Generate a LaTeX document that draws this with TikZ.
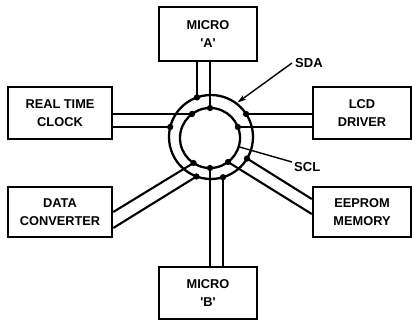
\documentclass[tikz,border=0pt]{standalone}
\usepackage{fontspec}
\setmainfont{Liberation Sans}
\usetikzlibrary{arrows.meta,calc}
\begin{document}
\begin{tikzpicture}[x=1pt,y=-1pt,
  box/.style={draw,line width=2.5pt,inner sep=0pt,align=center,
    font=\bfseries\fontsize{12.8}{17.5}\selectfont},
  bus/.style={line width=2.1pt},
  ring/.style={circle,draw,line width=2.3pt,inner sep=0pt},
  dotc/.style={circle,fill,inner sep=0pt,minimum size=6.3pt},
  lbl/.style={font=\bfseries\fontsize{13}{15}\selectfont,anchor=west,inner sep=0pt}]
\useasboundingbox (0,0) rectangle (412,321);
% boxes
\node[box,minimum width=98pt,minimum height=54pt] (ma) at (208,34) {MICRO\\\textquotesingle A\textquotesingle};
\node[box,minimum width=98pt,minimum height=52pt] (mb) at (208,293) {MICRO\\\textquotesingle B\textquotesingle};
\node[box,minimum width=104pt,minimum height=52pt] (rtc) at (60,113) {REAL TIME\\CLOCK};
\node[box,minimum width=98pt,minimum height=52pt] (lcd) at (362,113) {LCD\\DRIVER};
\node[box,minimum width=104pt,minimum height=50pt] (dc) at (60,212) {DATA\\CONVERTER};
\node[box,minimum width=98pt,minimum height=50pt] (ee) at (362,212) {EEPROM\\MEMORY};
% bus rings
\node[ring,minimum size=84pt] (sda) at (211,137) {};
\node[ring,minimum size=60pt] (scl) at (210,138) {};
% junctions
\coordinate (A1) at (197,97.4);
\coordinate (A2) at (210,108);
\coordinate (R1) at (192,114);
\coordinate (R2) at (170.2,127);
\coordinate (L1) at (246.1,114);
\coordinate (L2) at (237.9,127);
\coordinate (D1) at (193.5,163);
\coordinate (D2) at (196.5,176.5);
\coordinate (B1) at (210,168);
\coordinate (B2) at (223,177.2);
\coordinate (E1) at (247,158.5);
\coordinate (E2) at (228,162);
% connectors
\draw[bus] (A1 |- ma.south) -- (A1);
\draw[bus] (A2 |- ma.south) -- (A2);
\draw[bus] (rtc.east |- R1) -- (R1);
\draw[bus] (rtc.east |- R2) -- (R2);
\draw[bus] (lcd.west |- L1) -- (L1);
\draw[bus] (lcd.west |- L2) -- (L2);
\draw[bus] (dc.east) -- (D1);
\draw[bus] ([yshift=-16pt]dc.east) -- (D2);
\draw[bus] (B1 |- mb.north) -- (B1);
\draw[bus] (B2 |- mb.north) -- (B2);
\draw[bus] ([yshift=13pt]ee.west) -- (E1);
\draw[bus] ([yshift=-2pt]ee.west) -- (E2);
\foreach \p in {A1,A2,R1,R2,L1,L2,D1,D2,B1,B2,E1,E2}
  \node[dotc] at (\p) {};
% labels
\node[lbl] (sdal) at (295,63) {SDA};
\node[lbl] (scll) at (294,167) {SCL};
\coordinate (sdatip) at (237.5,102.5);
\coordinate (scltip) at (239.5,147);
\draw[line width=1.4pt,-{Stealth[length=9pt,width=5.5pt]}] ([xshift=-3pt]sdal.west) -- (sdatip);
\draw[line width=1.4pt] ([xshift=-2pt,yshift=5pt]scll.west) -- (scltip);
\end{tikzpicture}
\end{document}
